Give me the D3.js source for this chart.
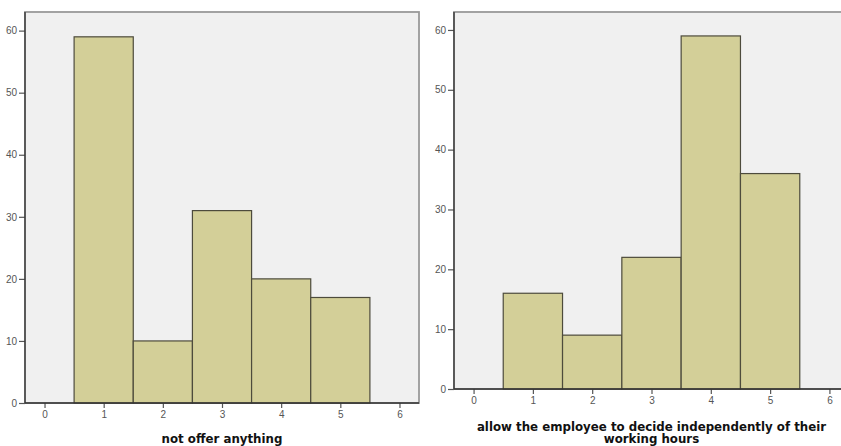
<!DOCTYPE html>
<html><head><meta charset="utf-8">
<script src="https://cdn.jsdelivr.net/npm/d3@7"></script>
<style>body{margin:0;background:#fff;}svg{display:block;}</style>
</head><body>
<svg id="c" width="841" height="446"></svg>
<script>
const categories = [1, 2, 3, 4, 5];
const leftValues = [59, 10, 31, 20, 17];
const rightValues = [16, 9, 22, 59, 36];
const xTicks = [0, 1, 2, 3, 4, 5, 6];
const yTicks = [0, 10, 20, 30, 40, 50, 60];
const leftTitle = ["not offer anything"];
const rightTitle = ["allow the employee to decide independently of their", "working hours"];

const svg = d3.select("#c");

function panel(values, titleLines, box) {
  const x = d3.scaleLinear().domain([-0.33, 6.33]).range([box.left, box.right]);
  const y = d3.scaleLinear().domain([0, 63]).range([box.bottom, box.top]);
  const g = svg.append("g");
  g.append("rect").attr("x", box.left).attr("y", box.top)
    .attr("width", box.right - box.left).attr("height", box.bottom - box.top)
    .attr("fill", "#f0f0f0").attr("stroke", "#999").attr("stroke-width", 1.8);
  g.selectAll("rect.bar").data(categories).enter().append("rect")
    .attr("class", "bar")
    .attr("x", d => x(d - 0.5))
    .attr("y", (d, i) => y(values[i]))
    .attr("width", d => x(d + 0.5) - x(d - 0.5))
    .attr("height", (d, i) => y(0) - y(values[i]))
    .attr("fill", "#d3cf98").attr("stroke", "#4d4b3c").attr("stroke-width", 1.2);
  const ya = g.append("g").attr("transform", `translate(${box.left},0)`)
    .call(d3.axisLeft(y).tickValues(yTicks).tickSize(6).tickPadding(2).tickFormat(d3.format("d")));
  const xa = g.append("g").attr("transform", `translate(0,${box.bottom})`)
    .call(d3.axisBottom(x).tickValues(xTicks).tickSize(5).tickPadding(3).tickFormat(d3.format("d")));
  [ya, xa].forEach(a => {
    a.select(".domain").remove();
    a.selectAll(".tick line").attr("stroke", "#555").attr("stroke-width", 1.2);
    a.selectAll(".tick text").attr("fill", "#555").style("font-family", "Liberation Sans, Arial, sans-serif").style("font-size", "10px");
  });
  g.append("line").attr("x1", box.left).attr("x2", box.left).attr("y1", box.top).attr("y2", box.bottom)
    .attr("stroke", "#333").attr("stroke-width", 1.3);
  g.append("line").attr("x1", box.left).attr("x2", box.right).attr("y1", box.bottom).attr("y2", box.bottom)
    .attr("stroke", "#333").attr("stroke-width", 1.3);
  const cx = (box.left + box.right) / 2;
  const n = titleLines.length;
  titleLines.forEach((t, i) => {
    g.append("text").attr("x", cx).attr("y", 443 - (n - 1 - i) * 12.5)
      .attr("text-anchor", "middle")
      .style("font-family", "DejaVu Sans, Verdana, sans-serif").style("font-weight", "bold")
      .style("font-size", "11.8px").attr("fill", "#111").text(t);
  });
}

panel(leftValues, leftTitle, {left: 25, right: 419, top: 12, bottom: 403});
panel(rightValues, rightTitle, {left: 454, right: 849, top: 12, bottom: 389});
</script>
</body></html>
